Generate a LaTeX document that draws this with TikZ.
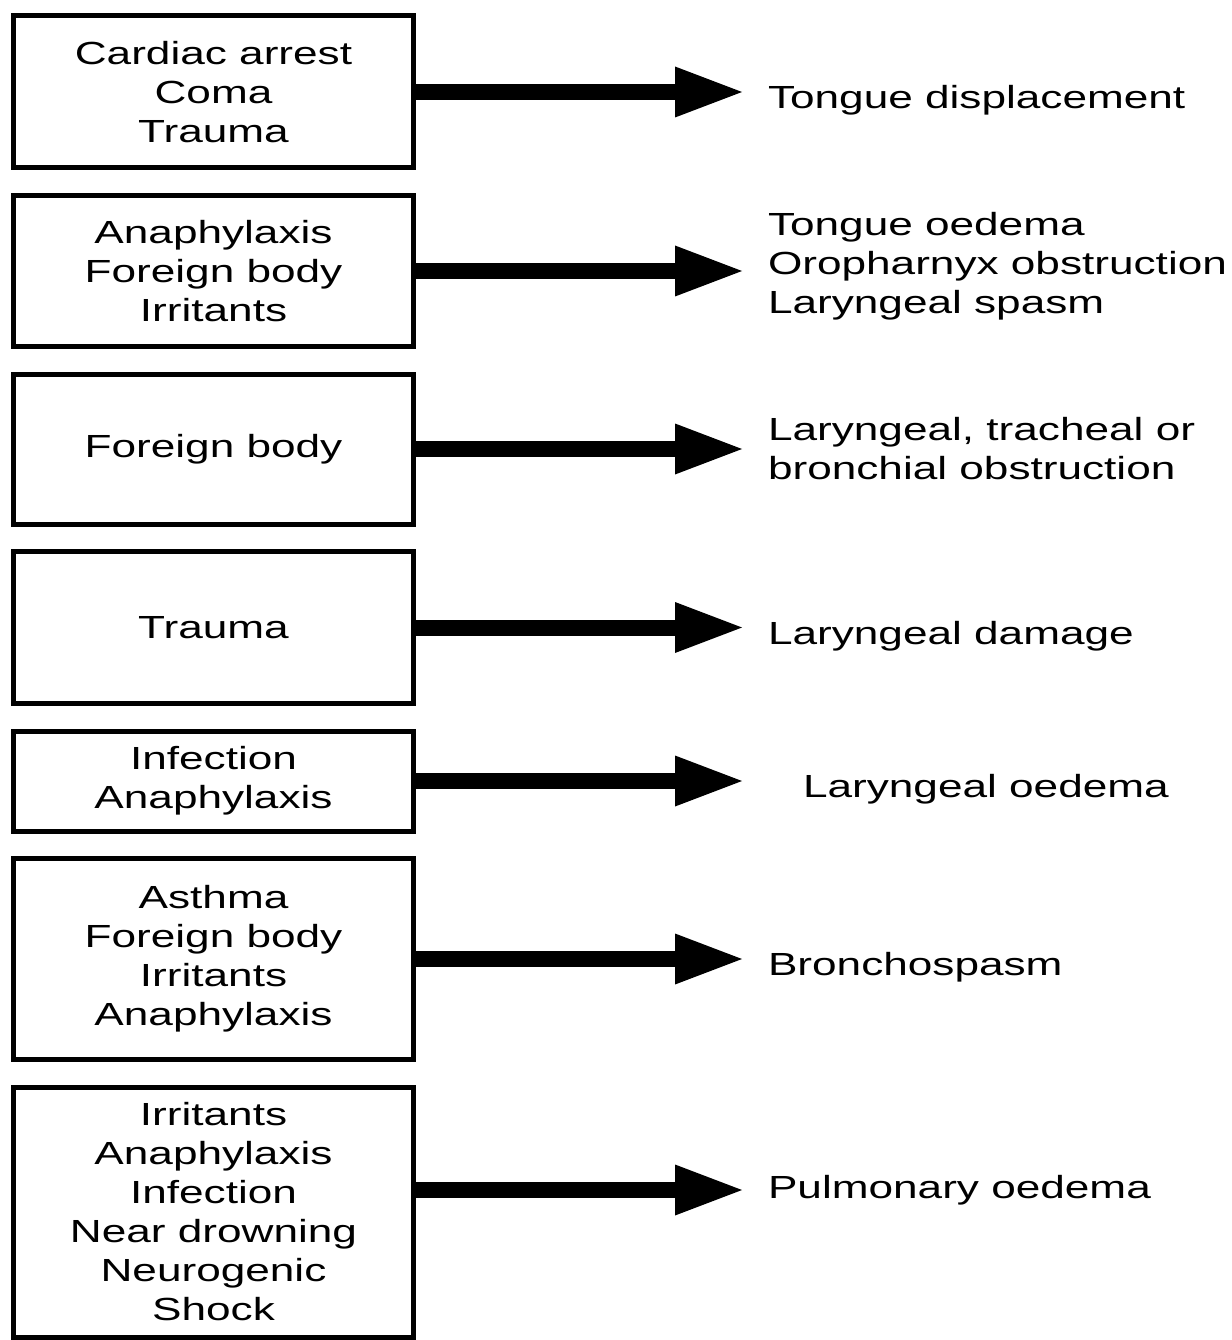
\documentclass[tikz,border=0pt]{standalone}
\usepackage{fontspec}
\setmainfont{Liberation Sans}[FakeStretch=1.38]
\usepackage{tikz}
\usetikzlibrary{arrows.meta, positioning}

\begin{document}
\begin{tikzpicture}[
        font=\fontsize{32pt}{39pt}\selectfont,
        node distance=22.5pt,
        cause/.style={rectangle, draw=black, line width=5pt, align=center, minimum width=399pt, inner sep=0pt},
        effect/.style={align=left, inner sep=0pt, outer sep=0pt},
        arrow/.style={-{Triangle[length=67pt, width=51pt, line width=0pt]}, line width=16pt}
    ]
        % causes, top to bottom
        \node[cause, minimum height=152pt] (cardiac) {Cardiac arrest\\Coma\\Trauma};
        \node[cause, minimum height=151pt, below=of cardiac] (anaph) {Anaphylaxis\\Foreign body\\Irritants};
        \node[cause, minimum height=150pt, below=of anaph] (fbody) {Foreign body};
        \node[cause, minimum height=152pt, below=of fbody] (trauma) {Trauma};
        \node[cause, minimum height=100pt, below=of trauma] (infect) {Infection\\Anaphylaxis};
        \node[cause, minimum height=201pt, below=of infect] (asthma) {Asthma\\Foreign body\\Irritants\\Anaphylaxis};
        \node[cause, minimum height=250pt, below=of asthma] (irrit) {Irritants\\Anaphylaxis\\Infection\\Near drowning\\Neurogenic\\Shock};

        % effects
        \node[effect, right=352.5pt of cardiac, yshift=-8pt] (displace) {Tongue displacement};
        \node[effect, right=352.5pt of anaph, yshift=5pt] (oedema) {Tongue oedema\\Oropharnyx obstruction\\Laryngeal spasm};
        \node[effect, right=352.5pt of fbody] (obstr) {Laryngeal, tracheal or\\bronchial obstruction};
        \node[effect, right=352.5pt of trauma, yshift=-9pt] (damage) {Laryngeal damage};
        \node[effect, right=387.5pt of infect, yshift=-8pt] (laryoed) {Laryngeal oedema};
        \node[effect, right=352.5pt of asthma, yshift=-8pt] (broncho) {Bronchospasm};
        \node[effect, right=352.5pt of irrit, yshift=22pt] (pulm) {Pulmonary oedema};

        \coordinate[right=326.5pt of cardiac.east] (tip);

        \draw[arrow] (cardiac) -- (cardiac -| tip);
        \draw[arrow] (anaph) -- (anaph -| tip);
        \draw[arrow] (fbody) -- (fbody -| tip);
        \draw[arrow] (trauma) -- (trauma -| tip);
        \draw[arrow] (infect) -- (infect -| tip);
        \draw[arrow] (asthma) -- (asthma -| tip);
        \draw[arrow] (irrit.east |- pulm) -- (tip |- pulm);

        \useasboundingbox ([xshift=-11.5pt, yshift=13.5pt]cardiac.north west) rectangle ++(1231pt,-1340pt);
    \end{tikzpicture}
\end{document}
